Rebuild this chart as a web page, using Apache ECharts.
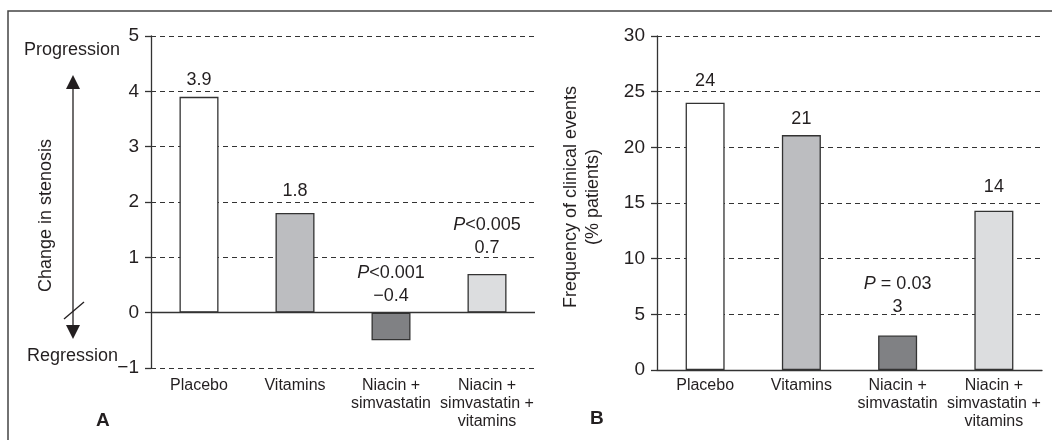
<!DOCTYPE html>
<html>
<head>
<meta charset="utf-8">
<script src="https://cdn.jsdelivr.net/npm/echarts@6/dist/echarts.min.js"></script>
<style>
  html, body { margin: 0; padding: 0; background: #fff; }
  #chart { width: 1052px; height: 440px; }
</style>
</head>
<body>
<div id="chart"></div>
<script>
// categories shared by both panels
const categories = ['Placebo', 'Vitamins', 'Niacin +\nsimvastatin', 'Niacin +\nsimvastatin +\nvitamins']

// panel A: change in stenosis
const stenosisValues = [3.9, 1.8, -0.5, 0.7]
const stenosisLabels = ['3.9', '1.8', '−0.4', '0.7']
const stenosisP = ['', '', '<0.001', '<0.005']

// panel B: frequency of clinical events (% patients)
const eventValues = [24, 21.1, 3.1, 14.3]
const eventLabels = ['24', '21', '3', '14']
const eventP = ['', '', ' = 0.03', '']

const barColors = ['#ffffff', '#bcbdc0', '#808184', '#dcdddf']
const font = '"Liberation Sans", Arial, Helvetica, sans-serif'
const ink = '#231f20'

const chart = echarts.init(document.getElementById('chart'))

// per-bar label nudges (px) so the numbers sit where the figure has them
const offsetsA = [0, -6, 0, -9]
const offsetsB = [-5, 0, -12, -7]

function buildData(values, labels, pvals, offsets) {
  return values.map((v, i) => ({
    value: v,
    itemStyle: { color: barColors[i] },
    label: {
      offset: [0, offsets[i]],
      formatter: () => pvals[i]
        ? '{p|P}{t|' + pvals[i] + '}\n{t|' + labels[i] + '}'
        : '{t|' + labels[i] + '}'
    }
  }))
}

const barLabel = {
  show: true,
  position: 'top',
  distance: 5,
  rich: {
    p: { fontFamily: font, fontSize: 18, fontStyle: 'italic', color: ink, lineHeight: 23 },
    t: { fontFamily: font, fontSize: 18, color: ink, lineHeight: 23 }
  }
}

const dashed = { show: true, lineStyle: { color: '#333', width: 1, type: [5, 4] } }

function catAxis(gridIndex, margin) {
  return {
    type: 'category',
    gridIndex,
    data: categories,
    axisLine: { show: gridIndex === 1, onZero: false, lineStyle: { color: '#333', width: 1.3 } },
    axisTick: { show: false },
    axisLabel: { interval: 0, fontFamily: font, fontSize: 16, lineHeight: 18, color: ink, margin }
  }
}

function valAxis(gridIndex, min, max, interval, name, gap, padding) {
  return {
    type: 'value',
    gridIndex,
    min, max, interval,
    name,
    nameLocation: 'middle',
    nameGap: gap,
    nameRotate: 90,
    nameTextStyle: { fontFamily: font, fontSize: 18, color: ink, lineHeight: 22, padding },
    axisLine: { show: true, lineStyle: { color: '#333', width: 1.3 } },
    axisTick: { show: true, length: 6, lineStyle: { color: '#333', width: 1.3 } },
    axisLabel: {
      fontFamily: font, fontSize: 19, color: ink, margin: 12,
      formatter: v => String(v).replace('-', '−')
    },
    splitLine: dashed
  }
}

chart.setOption({
  animation: false,
  grid: [
    { left: 151, top: 36, width: 384, height: 332 },
    { left: 657, top: 36, width: 385, height: 334 }
  ],
  xAxis: [catAxis(0, 9), catAxis(1, 7)],
  yAxis: [
    valAxis(0, -1, 5, 1, 'Change in stenosis', 94, [0, 27, 0, 0]),
    valAxis(1, 0, 30, 5, 'Frequency of clinical events\n(% patients)', 53, [0, 0, 0, 12])
  ],
  series: [
    {
      type: 'bar',
      xAxisIndex: 0,
      yAxisIndex: 0,
      barWidth: 39,
      itemStyle: { borderColor: '#333', borderWidth: 1.3 },
      label: barLabel,
      data: buildData(stenosisValues, stenosisLabels, stenosisP, offsetsA),
      markLine: {
        silent: true,
        symbol: ['none', 'none'],
        label: { show: false },
        lineStyle: { color: '#333', width: 1.3, type: 'solid' },
        data: [{ yAxis: 0 }]
      }
    },
    {
      type: 'bar',
      xAxisIndex: 1,
      yAxisIndex: 1,
      barWidth: 39,
      itemStyle: { borderColor: '#333', borderWidth: 1.3 },
      label: barLabel,
      data: buildData(eventValues, eventLabels, eventP, offsetsB)
    }
  ],
  graphic: [
    // figure frame (top and left edges)
    { type: 'polyline', shape: { points: [[8, 440], [8, 11], [1052, 11]] }, style: { stroke: '#444', lineWidth: 1.5, fill: null } },
    // progression / regression arrow
    { type: 'line', shape: { x1: 73, y1: 86, x2: 73, y2: 327 }, style: { stroke: ink, lineWidth: 1.3 } },
    { type: 'polygon', shape: { points: [[66, 89], [80, 89], [73, 75]] }, style: { fill: ink } },
    { type: 'polygon', shape: { points: [[66, 325], [80, 325], [73, 339]] }, style: { fill: ink } },
    { type: 'line', shape: { x1: 64, y1: 319, x2: 84, y2: 302 }, style: { stroke: ink, lineWidth: 1.3 } },
    { type: 'text', left: 24, top: 41, style: { text: 'Progression', font: '18px ' + font, fill: ink } },
    { type: 'text', left: 27, top: 347, style: { text: 'Regression', font: '18px ' + font, fill: ink } },
    // panel letters
    { type: 'text', left: 96, top: 411, style: { text: 'A', font: 'bold 19px ' + font, fill: ink } },
    { type: 'text', left: 590, top: 409, style: { text: 'B', font: 'bold 19px ' + font, fill: ink } }
  ]
})
</script>
</body>
</html>
